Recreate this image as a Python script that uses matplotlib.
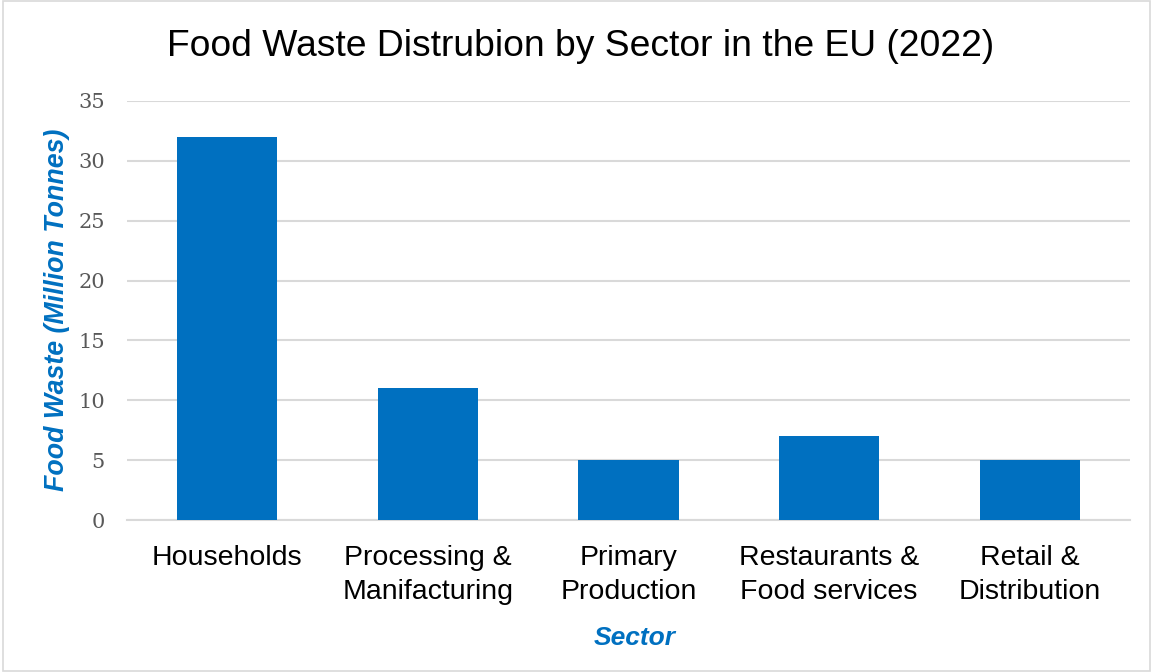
import matplotlib
matplotlib.use("Agg")
import matplotlib.pyplot as plt
from matplotlib.patches import Rectangle

categories = ["Households", "Processing &\nManifacturing", "Primary\nProduction",
              "Restaurants &\nFood services", "Retail &\nDistribution"]
values = [32, 11, 5, 7, 5]
yticks = [0, 5, 10, 15, 20, 25, 30, 35]

blue = "#0070C0"
fig = plt.figure(figsize=(11.53, 6.72), dpi=100)
ax = fig.add_axes([127/1153, 1 - 520/672, (1130-127)/1153, (520-101)/672])

x = range(len(categories))
ax.bar(x, values, width=0.5, color=blue, zorder=3)
ax.set_xlim(-0.5, len(categories) - 0.5)
ax.set_ylim(0, 35)
ax.set_yticks(yticks)
ax.set_yticklabels([str(t) for t in yticks], fontsize=15, family="DejaVu Serif", color="#595959")
ax.set_xticks(list(x))
ax.set_xticklabels(categories, fontsize=20.5, family="Liberation Sans", color="black", linespacing=1.4)
ax.tick_params(axis="both", length=0)
ax.tick_params(axis="y", pad=16)
ax.tick_params(axis="x", pad=18)
ax.grid(axis="y", color="#D9D9D9", linewidth=1.5, zorder=0)
for s in ["top", "right", "left"]:
    ax.spines[s].set_visible(False)
ax.spines["bottom"].set_color("#D9D9D9")
ax.spines["bottom"].set_linewidth(1.5)

fig.text(57/1153, 1 - 310/672, "Food Waste (Million Tonnes)", fontsize=19.3, fontweight="bold",
         fontstyle="italic", color=blue, family="Liberation Sans", ha="center", va="center",
         rotation=90)
fig.text(635/1153, 1 - 638/672, "Sector", fontsize=19, fontweight="bold", fontstyle="italic",
         color=blue, family="Liberation Sans", ha="center", va="center")
fig.text(581/1153, 1 - 47/672, "Food Waste Distrubion by Sector in the EU (2022)", fontsize=26.8,
         family="Liberation Sans", ha="center", va="center")

fig.patches.append(Rectangle((3/1153, 0.002), 1 - 6/1153, 0.996, transform=fig.transFigure,
                             fill=False, edgecolor="#D9D9D9", linewidth=1.2))
fig.savefig("out.png", dpi=100)
